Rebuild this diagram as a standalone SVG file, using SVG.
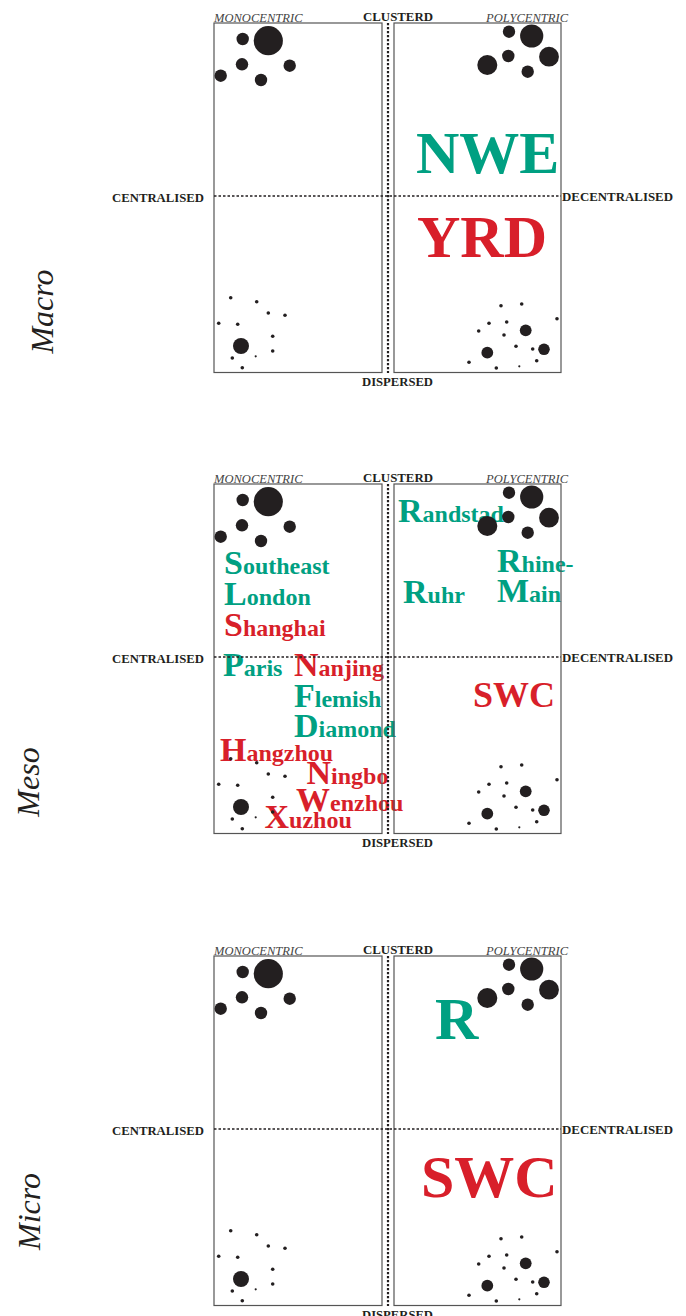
<svg xmlns="http://www.w3.org/2000/svg" xmlns:xlink="http://www.w3.org/1999/xlink" width="686" height="1316" viewBox="0 0 686 1316">
<style>
.box{fill:none;stroke:#555;stroke-width:1.2}
.vd{stroke:#231F20;stroke-width:2.2;stroke-dasharray:2.2 1.8;fill:none}
.hd{stroke:#231F20;stroke-width:1.6;stroke-dasharray:2.5 2;fill:none}
.d{fill:#231F20}
.it{font-family:"Liberation Serif",serif;font-style:italic;font-size:12.5px;fill:#444}
.bl{font-family:"Liberation Serif",serif;font-weight:bold;font-size:11.5px;fill:#231F20}
.side{font-family:"Liberation Serif",serif;font-style:italic;font-size:32px;fill:#231F20;text-anchor:middle}
.g{fill:#00A082}
.r{fill:#D81F2A}
.lab{font-family:"Liberation Serif",serif;font-weight:bold;font-size:24px}
.big{font-size:34px}
.huge{font-family:"Liberation Serif",serif;font-weight:bold;font-size:60px}
</style>
<defs>
<g id="panel">
<rect class="box" x="214" y="23" width="168" height="349.5"/>
<rect class="box" x="394" y="23" width="167" height="349.5"/>
<line class="vd" x1="388" y1="23" x2="388" y2="373"/>
<line class="hd" x1="214" y1="196" x2="561" y2="196"/>
<text class="it" x="214" y="21.5" textLength="88.5" lengthAdjust="spacingAndGlyphs">MONOCENTRIC</text>
<text class="it" x="486" y="21.5" textLength="82" lengthAdjust="spacingAndGlyphs">POLYCENTRIC</text>
<text class="bl" x="363" y="20.7" textLength="70" lengthAdjust="spacingAndGlyphs">CLUSTERD</text>
<text class="bl" x="112" y="201.5" textLength="92" lengthAdjust="spacingAndGlyphs">CENTRALISED</text>
<text class="bl" x="562" y="200.7" textLength="111" lengthAdjust="spacingAndGlyphs">DECENTRALISED</text>
<text class="bl" x="362" y="386" textLength="71" lengthAdjust="spacingAndGlyphs">DISPERSED</text>
<g class="d">
<circle cx="268.3" cy="40.7" r="14.6"/>
<circle cx="242.7" cy="39" r="6.2"/>
<circle cx="242" cy="64.3" r="6.2"/>
<circle cx="289.7" cy="65.7" r="6.2"/>
<circle cx="220.7" cy="75.7" r="6.2"/>
<circle cx="261" cy="80" r="6.2"/>
<circle cx="509" cy="31.7" r="6.2"/>
<circle cx="531.7" cy="36" r="11.6"/>
<circle cx="508.3" cy="56" r="6.2"/>
<circle cx="549" cy="56.7" r="9.9"/>
<circle cx="487.3" cy="65" r="10"/>
<circle cx="527.7" cy="71.7" r="6.2"/>
<circle cx="230.7" cy="297.7" r="1.8"/>
<circle cx="256.7" cy="301.7" r="1.8"/>
<circle cx="268.3" cy="313" r="1.8"/>
<circle cx="285" cy="315.3" r="1.8"/>
<circle cx="218.7" cy="323.3" r="1.8"/>
<circle cx="237.7" cy="324.3" r="1.8"/>
<circle cx="272.7" cy="336.3" r="1.8"/>
<circle cx="241" cy="346" r="8"/>
<circle cx="272.7" cy="351" r="1.8"/>
<circle cx="232.3" cy="358" r="1.8"/>
<circle cx="255.7" cy="356.3" r="1.1"/>
<circle cx="242.3" cy="367.7" r="1.8"/>
<circle cx="501" cy="305.7" r="1.8"/>
<circle cx="521.7" cy="304" r="1.8"/>
<circle cx="557" cy="318.7" r="1.8"/>
<circle cx="489" cy="323.3" r="1.8"/>
<circle cx="506.7" cy="322" r="1.8"/>
<circle cx="478.7" cy="331" r="1.8"/>
<circle cx="525.7" cy="330.3" r="5.9"/>
<circle cx="504" cy="335" r="1.8"/>
<circle cx="516" cy="346.3" r="1.8"/>
<circle cx="532.7" cy="349" r="1.8"/>
<circle cx="544" cy="349.3" r="5.8"/>
<circle cx="487.3" cy="352.7" r="5.9"/>
<circle cx="536.7" cy="360.7" r="1.8"/>
<circle cx="469" cy="362.3" r="1.8"/>
<circle cx="496.3" cy="368" r="1.8"/>
<circle cx="519.3" cy="366.3" r="1.1"/>
</g>
</g>
</defs>

<g id="macro">
<text class="side" transform="translate(53,311.5) rotate(-90)">Macro</text>
<text class="huge g" x="416" y="173.3">NWE</text>
<text class="huge r" x="417" y="256.7">YRD</text>
<use xlink:href="#panel"/>
</g>

<g id="meso">
<text class="side" transform="translate(38.5,782) rotate(-90)">Meso</text>
<g class="lab">
<text class="g" x="398" y="522.3"><tspan class="big">R</tspan>andstad</text>
<text class="g" x="224" y="574"><tspan class="big">S</tspan>outheast</text>
<text class="g" x="224" y="605"><tspan class="big">L</tspan>ondon</text>
<text class="r" x="224" y="635.7"><tspan class="big">S</tspan>hanghai</text>
<text class="g" x="403" y="603.3"><tspan class="big">R</tspan>uhr</text>
<text class="g" x="497" y="572.3"><tspan class="big">R</tspan>hine-</text>
<text class="g" x="497" y="602.3"><tspan class="big">M</tspan>ain</text>
<text class="g" x="223" y="676"><tspan class="big">P</tspan>aris</text>
<text class="r" x="294" y="676"><tspan class="big">N</tspan>anjing</text>
<text class="g" x="294" y="706.7"><tspan class="big">F</tspan>lemish</text>
<text class="g" x="294" y="737.3"><tspan class="big">D</tspan>iamond</text>
<text class="r" x="220" y="760.7"><tspan class="big">H</tspan>angzhou</text>
<text class="r" x="306.5" y="784"><tspan class="big">N</tspan>ingbo</text>
<text class="r" x="296" y="810.7"><tspan class="big">W</tspan>enzhou</text>
<text class="r" x="264.5" y="828.3"><tspan class="big">X</tspan>uzhou</text>
</g>
<text class="r" x="473" y="706.7" style="font-family:'Liberation Serif',serif;font-weight:bold;font-size:36px">SWC</text>
<use xlink:href="#panel" transform="translate(0,461)"/>
</g>

<g id="micro">
<text class="side" transform="translate(39.5,1211.5) rotate(-90)">Micro</text>
<text class="huge g" x="435" y="1039">R</text>
<text class="huge r" x="421" y="1196.7">SWC</text>
<use xlink:href="#panel" transform="translate(0,933)"/>
</g>
</svg>
